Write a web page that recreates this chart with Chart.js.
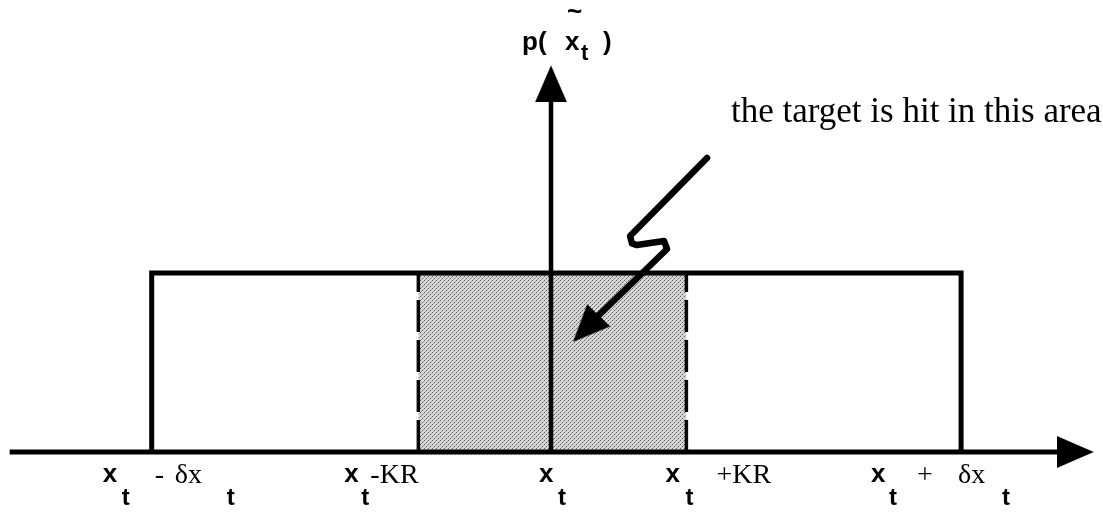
<!DOCTYPE html>
<html><head><meta charset="utf-8">
<script src="https://cdn.jsdelivr.net/npm/chart.js@4.4.0/dist/chart.umd.min.js"></script>
<style>html,body{margin:0;padding:0;background:#fff;}canvas{display:block;}</style>
</head><body>
<canvas id="c" width="1103" height="515"></canvas>
<script>
// ---- data ----
// x positions: x_t - δx_t, x_t - KR, x_t, x_t + KR, x_t + δx_t
const tickValues = [-2.98, -0.99, 0, 1.01, 3.06];
const tickLabels = [
  [['x','main'],['t','sub'],['-','op'],['δx','op'],['t','sub']],
  [['x','main'],['t','sub'],['-KR','op']],
  [['x','main'],['t','sub']],
  [['x','main'],['t','sub'],['+KR','op']],
  [['x','main'],['t','sub'],['+','op'],['δx','op'],['t','sub']]
];
const densityLevel = 1.0;               // height of the uniform density p(x̃t)
const outerBounds = [tickValues[0], tickValues[4]];
const hitBounds = [tickValues[1], tickValues[3]];
const xAxisExtent = [-4.04, 4.05];
const yAxisExtent = [0, 2.16];
const yAxisTitle = [['p(','title'],['x','title'],['t','titleSub'],[')','title'],['~','title']];
const pointerPath = [
  {x:1.164,y:1.642},{x:0.590,y:1.207},{x:0.604,y:1.165},{x:0.640,y:1.156},
  {x:0.843,y:1.179},{x:0.866,y:1.134},{x:0.343,y:0.754}
];
const pointerTip = {x:0.164,y:0.615};
const annotationText = 'the target is hit in this area';

// ---- styles ----
const labelOffsets = [[-49,-30,3,23,75],[-74,-57,-48],[-12,7],[-21,-1,30],[-90,-72,-44,-3,41]];
const roleFont = {
  main:'bold 26px "Liberation Sans"', sub:'bold 24px "Liberation Sans"', op:'28px "Liberation Serif"',
  title:'bold 26px "Liberation Sans"', titleSub:'bold 22px "Liberation Sans"'
};
const roleDrop = {main:30, sub:53, op:31};
const titleOffsets = [[-29,-15],[14,-15],[30,-5],[52,-15],[16,-45]];

function makeArrow(L, W){
  const c=document.createElement('canvas'); c.width=2*L; c.height=W;
  const g=c.getContext('2d'); g.fillStyle='#000';
  g.beginPath(); g.moveTo(L,W/2); g.lineTo(0,0); g.lineTo(0,W); g.closePath(); g.fill();
  return c;
}
function makeStipple(){
  const c=document.createElement('canvas'); c.width=4; c.height=4;
  const g=c.getContext('2d'); g.fillStyle='#d8d8d8'; g.fillRect(0,0,4,4);
  g.fillStyle='#5a5a5a'; g.fillRect(0,0,1,1); g.fillRect(2,2,1,1);
  g.fillStyle='#a0a0a0'; g.fillRect(1,3,1,1); g.fillRect(3,1,1,1);
  return g.createPattern(c,'repeat');
}
const arrowImg = makeArrow(37, 32);
const stipple = makeStipple();

const rectPts = (a,b,h)=>[{x:a,y:0},{x:a,y:h},{x:b,y:h},{x:b,y:0}];
const vline = (v,h)=>[{x:v,y:0},{x:v,y:h}];
const base = {pointRadius:0, pointHoverRadius:0, fill:false, borderColor:'#000', tension:0};

const textPlugin = {
  id:'texts',
  afterDatasetsDraw(chart){
    const {ctx, scales:{x,y}} = chart;
    ctx.save(); ctx.fillStyle='#000'; ctx.textAlign='left'; ctx.textBaseline='alphabetic';
    const y0 = y.getPixelForValue(0);
    tickLabels.forEach((segs,i)=>{
      const px = x.getPixelForValue(tickValues[i]);
      segs.forEach((s,j)=>{ ctx.font=roleFont[s[1]]; ctx.fillText(s[0], px+labelOffsets[i][j], y0+roleDrop[s[1]]); });
    });
    const ax = x.getPixelForValue(0), ay = y.getPixelForValue(yAxisExtent[1]);
    yAxisTitle.forEach((s,j)=>{ ctx.font=roleFont[s[1]]; ctx.fillText(s[0], ax+titleOffsets[j][0], ay+titleOffsets[j][1]); });
    const sx = x.getPixelForValue(pointerPath[0].x), sy = y.getPixelForValue(pointerPath[0].y);
    ctx.font='35px "Liberation Serif"';
    ctx.fillText(annotationText, sx+24, sy-36);
    ctx.restore();
  }
};

new Chart(document.getElementById('c'), {
  type:'line',
  data:{datasets:[
    {...base, data:rectPts(hitBounds[0],hitBounds[1],densityLevel), fill:'origin', backgroundColor:stipple, borderWidth:0, order:10},
    {...base, data:rectPts(outerBounds[0],outerBounds[1],densityLevel), borderWidth:5, borderJoinStyle:'miter', order:5},
    {...base, data:vline(hitBounds[0],densityLevel), borderWidth:3.5, borderDash:[32,8], order:4},
    {...base, data:vline(hitBounds[1],densityLevel), borderWidth:3.5, borderDash:[32,8], order:4},
    {...base, data:[{x:xAxisExtent[0],y:0},{x:xAxisExtent[1]-0.12,y:0}], borderWidth:5, order:3},
    {...base, data:[{x:0,y:yAxisExtent[0]},{x:0,y:yAxisExtent[1]-0.1}], borderWidth:4.5, order:3},
    {...base, data:pointerPath, borderWidth:6.5, borderJoinStyle:'round', borderCapStyle:'round', order:2},
    {data:[{x:xAxisExtent[1],y:0},{x:0,y:yAxisExtent[1]},pointerTip], showLine:false,
     pointStyle:arrowImg, pointRotation:[0,-90,134], pointRadius:10, pointHoverRadius:10, order:0}
  ]},
  options:{
    responsive:false, animation:false, devicePixelRatio:1,
    layout:{padding:0, autoPadding:false},
    events:[],
    scales:{
      x:{type:'linear', min:-4.112, max:4.119, display:false},
      y:{type:'linear', min:-0.352, max:2.525, display:false}
    },
    plugins:{legend:{display:false}, tooltip:{enabled:false}}
  },
  plugins:[textPlugin]
});
</script>
</body></html>
